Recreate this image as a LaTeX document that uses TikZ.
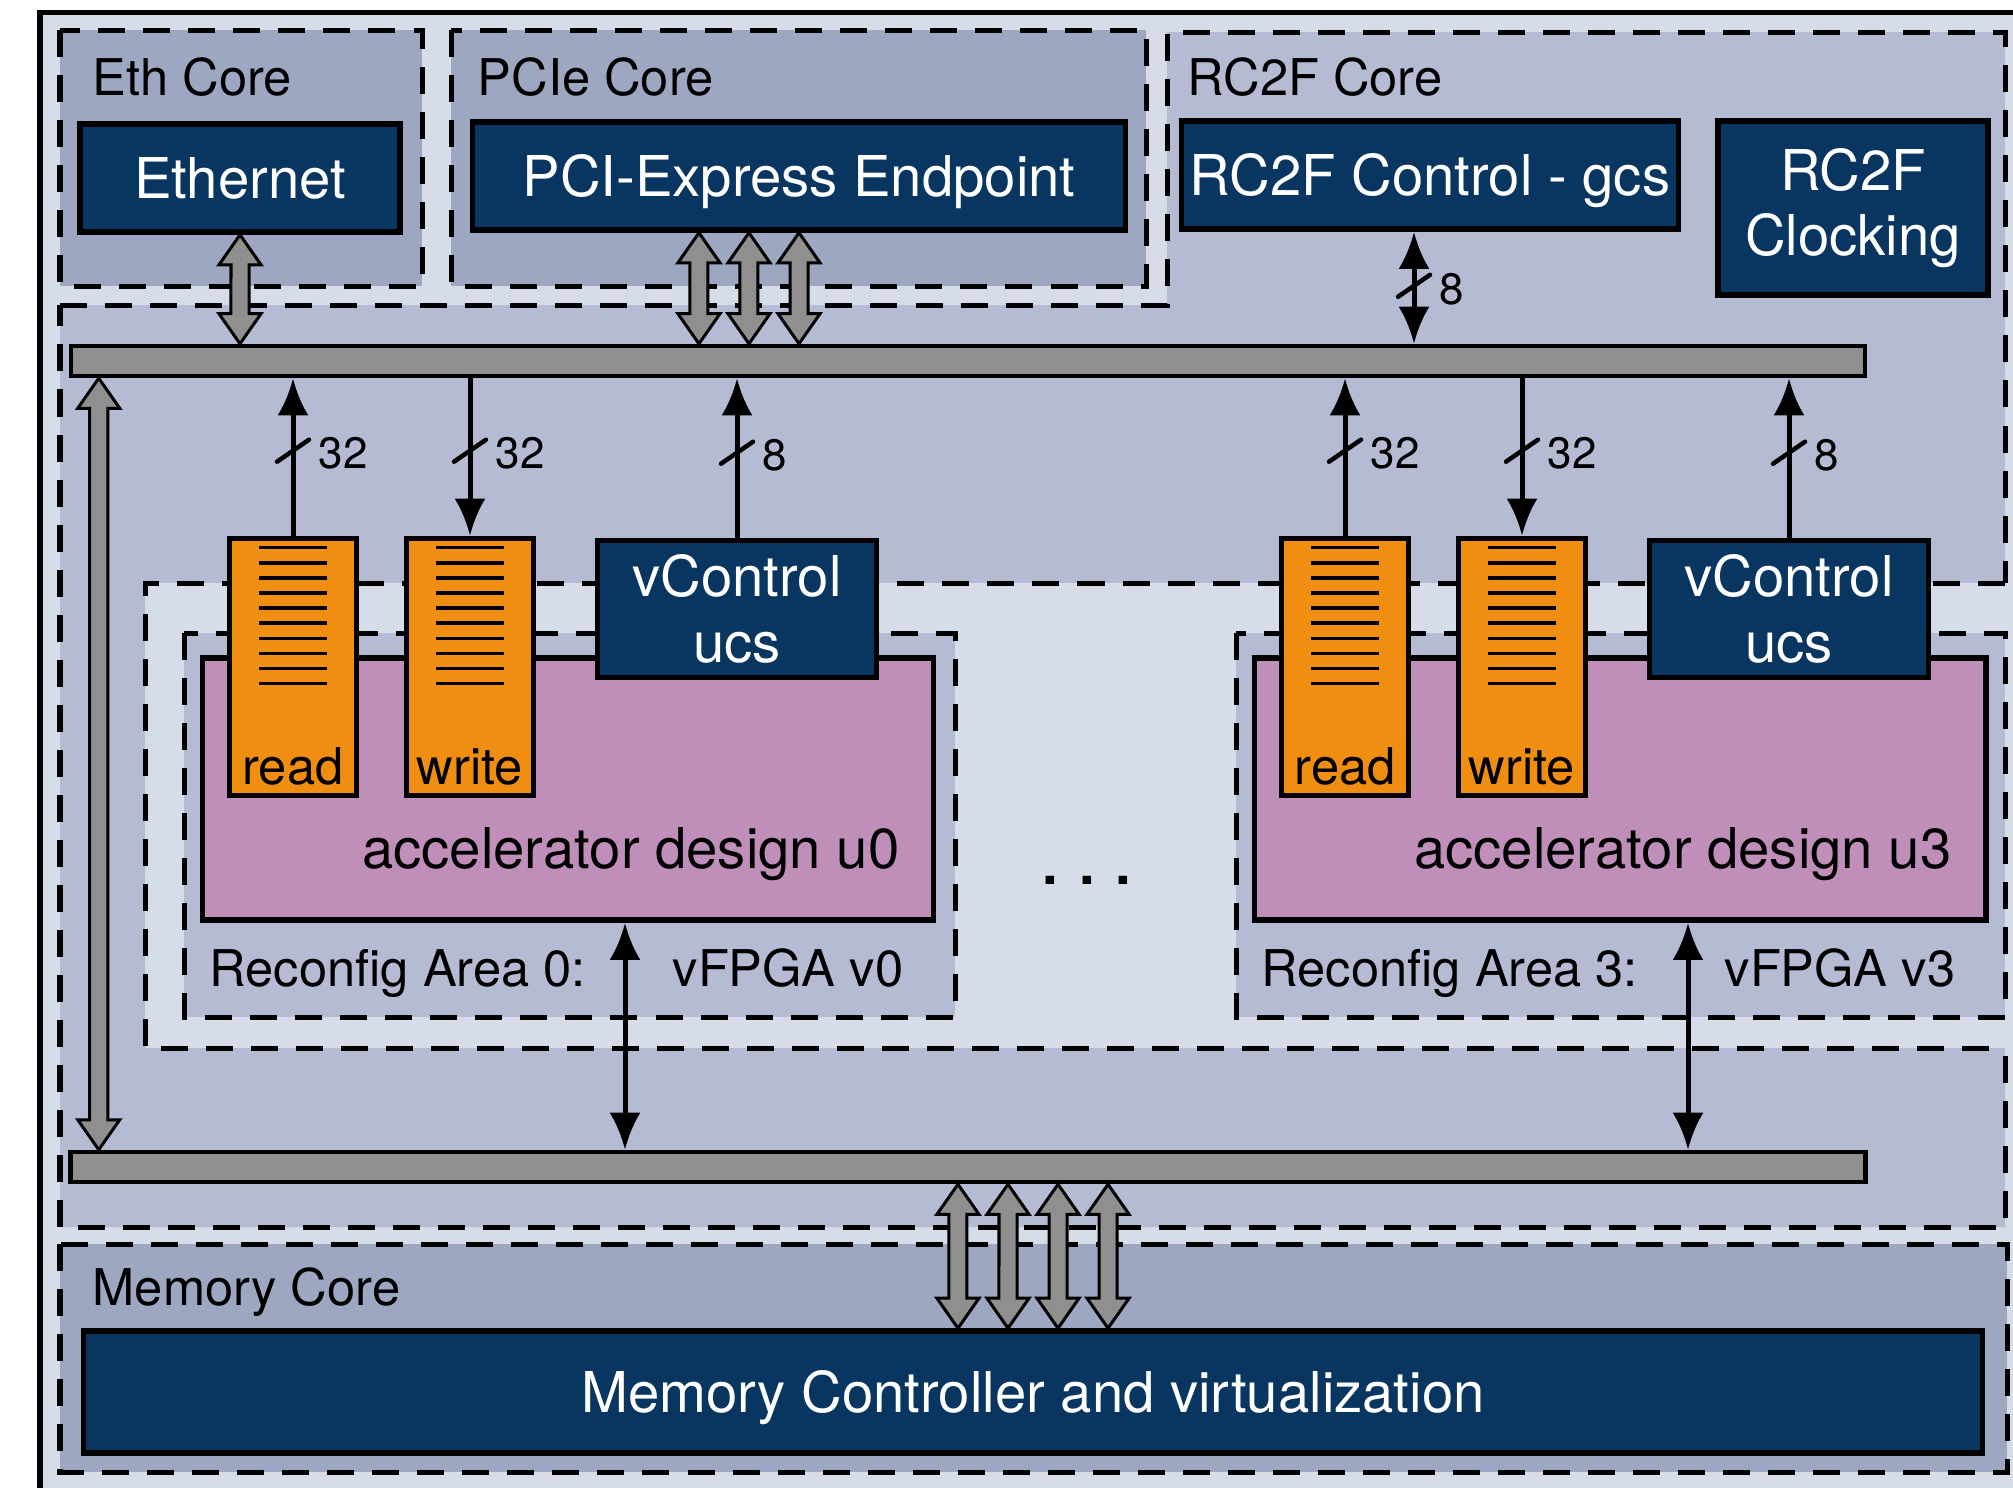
\documentclass[tikz,border=0pt]{standalone}
\usepackage{fontspec}
\setmainfont{TeX Gyre Heros}
\usepackage{tikz}
\usetikzlibrary{arrows.meta,positioning,calc}
\usepackage{xcolor}

\definecolor{bgpale}{RGB}{214,220,232}
\definecolor{coreblue}{RGB}{157,167,194}
\definecolor{rcblue}{RGB}{181,187,211}
\definecolor{boxblue}{RGB}{9,54,96}
\definecolor{fifoorange}{RGB}{239,142,16}
\definecolor{accpink}{RGB}{191,143,185}
\definecolor{busgray}{RGB}{143,143,143}

\newcommand{\bigtxt}{\fontsize{16}{18.6}\selectfont}
\newcommand{\midtxt}{\fontsize{14.4}{17}\selectfont}
\newcommand{\numtxt}{\fontsize{12.5}{15}\selectfont}

% wide grey bus arrow, #1 upper end, #2 lower end
\newcommand{\fatarrow}[2]{%
  \draw[fatarr] let \p1=#1, \p2=#2 in
    (\x1,\y1) -- ++(0.21cm,-0.3cm) -- ++(-0.12cm,0cm) -- (\x1+0.09cm,\y2+0.3cm)
    -- ++(0.12cm,0cm) -- (\x2,\y2) -- ++(-0.21cm,0.3cm) -- ++(0.12cm,0cm)
    -- (\x1-0.09cm,\y1-0.3cm) -- ++(-0.12cm,0cm) -- cycle;}

% bus width mark
\newcommand{\wslash}[3]{%
  \draw[line width=0.045cm, line cap=round] ($(#1)+(-16,11)$) -- ++(32,-22);
  \node[anchor=west, inner sep=0pt, font=\numtxt] (#3) at ($(#1)+(25,3)$) {#2};}

\begin{document}
\begin{tikzpicture}[x=0.01cm, y=-0.01cm, >={Latex[length=0.37cm,width=0.31cm]},
  region/.style={draw, line width=0.05cm, dash pattern=on 0.27cm off 0.18cm},
  darkbox/.style={draw, line width=0.055cm, fill=boxblue, text=white, font=\bigtxt, inner sep=0pt, align=center},
  oneline/.style={text height=11.5pt, text depth=0pt},
  fifo/.style={draw, line width=0.055cm, fill=fifoorange, minimum width=1.27cm, minimum height=2.57cm, inner sep=0pt},
  accbox/.style={draw, line width=0.055cm, fill=accpink, minimum width=7.31cm, minimum height=2.62cm, inner sep=0pt},
  bus/.style={draw, line width=0.045cm, fill=busgray, minimum height=0.3cm, inner sep=0pt},
  fatarr/.style={draw, line width=0.03cm, fill=busgray, line join=miter},
  sig/.style={line width=0.05cm},
  lbl/.style={inner sep=0pt, font=\midtxt}]

  \useasboundingbox (0,0) rectangle (2013,1487);
  \clip (0,0) rectangle (2013,1487);

  % chip frame
  \draw[line width=0.05cm, fill=bgpale] (40,12) rectangle (2100,1560);

  % cores
  \draw[region, fill=coreblue] (60,30) rectangle (422,286);
  \draw[region, fill=coreblue] (451,30) rectangle (1146,286);
  \draw[region, fill=rcblue] (60,305) -- (1167,305) -- (1167,32) -- (2005,32)
    -- (2005,1227) -- (60,1227) -- cycle;
  \draw[region, fill=coreblue] (60,1244) rectangle (2007,1472);

  % reconfigurable part
  \fill[bgpale] (145,583) rectangle (2010,1048);
  \draw[region] (2005,583) -- (145,583) -- (145,1048) -- (2005,1048);
  \draw[region, fill=rcblue] (184,633) rectangle (955,1017);
  \draw[region, fill=rcblue] (1236,633) rectangle (2005,1017);

  \node[lbl, anchor=base west] (ethlbl) at (92,95) {Eth Core};
  \node[lbl, anchor=base west] (pcielbl) at (477,95) {PCIe Core};
  \node[lbl, anchor=base west] (rclbl) at (1187,95) {RC2F Core};
  \node[lbl, anchor=base west] (memlbl) at (92,1305) {Memory Core};

  \node[darkbox, oneline, minimum width=3.2cm, minimum height=1.08cm] (eth) at (240,178) {Ethernet};
  \node[darkbox, oneline, minimum width=6.53cm, minimum height=1.08cm] (pcie) at (799,176) {PCI-Express Endpoint};
  \node[darkbox, oneline, minimum width=4.97cm, minimum height=1.08cm] (gcs) at (1430,175) {RC2F Control - gcs};
  \node[darkbox, minimum width=2.7cm, minimum height=1.74cm] (clk) at (1853,208) {RC2F\\Clocking};
  \node[darkbox, oneline, minimum width=18.98cm, minimum height=1.22cm] (memctrl) at (1033,1392) {Memory Controller and virtualization};

  \node[bus, minimum width=17.93cm] (topbus) at (968,361) {};
  \node[bus, minimum width=17.94cm] (lowbus) at (968,1167) {};

  % vFPGAs
  \foreach \vf/\sh/\ox in {0/0/57, 3/1052/68} {
    \node[accbox] (acc\vf) at ({568+\sh},789) {};
    \node[lbl, anchor=base east, font=\bigtxt] (acctxt\vf) at ({900+\sh},868) {accelerator design u\vf};
    \node[fifo] (rd\vf) at ({293+\sh},667) {};
    \node[fifo] (wr\vf) at ({470+\sh},667) {};
    \node[darkbox, minimum width=2.79cm, minimum height=1.37cm] (vc\vf) at ({737+\sh},609) {vControl\\ucs};
    \foreach \k in {0,...,9} {
      \draw[line width=0.035cm] ($(rd\vf.north)+(-34,{12+15.1*\k})$) -- ++(68,0);
      \draw[line width=0.035cm] ($(wr\vf.north)+(-34,{12+15.1*\k})$) -- ++(68,0);
    }
    \node[lbl, anchor=base] (rdtxt\vf) at ($(rd\vf.south)+(0,-14)$) {read};
    \node[lbl, anchor=base] (wrtxt\vf) at ($(wr\vf.south)+(0,-14)$) {write};
    \node[lbl, anchor=base west] (area\vf) at ({209+\sh},986) {Reconfig Area \vf:};
    \node[lbl, anchor=base west] (vfpga\vf) at ({672+\sh},986) {vFPGA v\vf};

    \draw[sig, ->] (rd\vf.north) -- (rd\vf.north |- topbus.south);
    \draw[sig, ->] (wr\vf.north |- topbus.south) -- (wr\vf.north);
    \draw[sig, ->] (vc\vf.north) -- (vc\vf.north |- topbus.south);
    \coordinate (sr\vf) at ($(rd\vf.north)+(0,-85)$);
    \coordinate (sw\vf) at ($(wr\vf.north)+(0,-85)$);
    \coordinate (sc\vf) at ($(vc\vf.north)+(0,-85)$);
    \wslash{sr\vf}{32}{nr\vf}
    \wslash{sw\vf}{32}{nw\vf}
    \wslash{sc\vf}{8}{nc\vf}

    \coordinate (m\vf) at ($(acc\vf.south)+(\ox,0)$);
    \draw[sig, <->] (m\vf) -- (m\vf |- lowbus.north);
  }

  \node[font=\bigtxt\bfseries, inner sep=0pt] (dots) at (1087,880) {. . .};

  % core links
  \fatarrow{(eth.south)}{(eth.south |- topbus.north)}
  \foreach \s in {-1,-0.5,0} {
    \coordinate (pp) at ([xshift=\s cm]pcie.south);
    \fatarrow{(pp)}{(pp |- topbus.north)}
  }
  \coordinate (g) at ([xshift=-0.16cm]gcs.south);
  \draw[sig, <->] (g) -- (g |- topbus.north);
  \coordinate (sg) at ($(g)+(0,54)$);
  \wslash{sg}{8}{ng}

  \coordinate (lf) at ([xshift=0.3cm]topbus.south west);
  \fatarrow{(lf)}{(lf |- lowbus.north)}

  \foreach \s in {-0.75,-0.25,0.25,0.75} {
    \coordinate (mm) at ([xshift=\s cm]memctrl.north);
    \fatarrow{(mm |- lowbus.south)}{(mm)}
  }
\end{tikzpicture}
\end{document}
